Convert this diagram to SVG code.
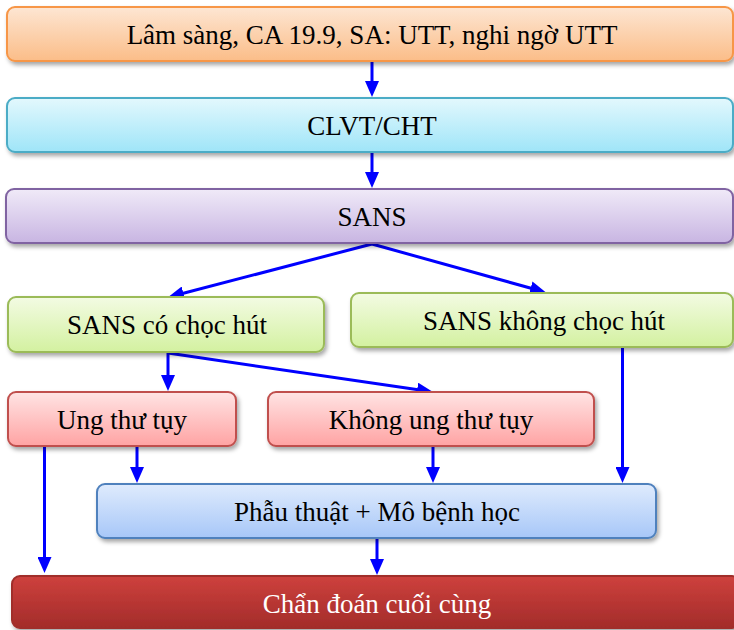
<svg xmlns="http://www.w3.org/2000/svg" width="734" height="630" viewBox="0 0 734 630">
<style>
  text { font-family: 'Liberation Serif', 'DejaVu Serif', serif; font-size: 27px; fill: #000; text-anchor: middle; }
  .white { fill: #fff; }
  .box { stroke-width: 2; filter: url(#shadow); }
  .conn { stroke: #0000ff; stroke-width: 3; fill: none; marker-end: url(#arrow); }
</style>
<defs>
  <filter id="shadow" x="-5%" y="-20%" width="110%" height="150%">
    <feDropShadow dx="2" dy="3" stdDeviation="2" flood-color="#000" flood-opacity="0.35"/>
  </filter>
  <marker id="arrow" viewBox="0 0 16 14" refX="8" refY="7" markerWidth="16" markerHeight="14" markerUnits="userSpaceOnUse" orient="auto">
    <path d="M0,0 L16,7 L0,14 z" fill="#0000ff"/>
  </marker>
  <linearGradient id="gOrange" x1="0" y1="0" x2="0" y2="1"><stop offset="0" stop-color="#fde6d3"/><stop offset="1" stop-color="#fbbd88"/></linearGradient>
  <linearGradient id="gCyan" x1="0" y1="0" x2="0" y2="1"><stop offset="0" stop-color="#e3f8fd"/><stop offset="1" stop-color="#9fe5f8"/></linearGradient>
  <linearGradient id="gPurple" x1="0" y1="0" x2="0" y2="1"><stop offset="0" stop-color="#f0eaf8"/><stop offset="1" stop-color="#c8b5e2"/></linearGradient>
  <linearGradient id="gGreen" x1="0" y1="0" x2="0" y2="1"><stop offset="0" stop-color="#f3fbe3"/><stop offset="1" stop-color="#d3f1a0"/></linearGradient>
  <linearGradient id="gPink" x1="0" y1="0" x2="0" y2="1"><stop offset="0" stop-color="#ffe4e4"/><stop offset="1" stop-color="#ffa3a3"/></linearGradient>
  <linearGradient id="gBlue" x1="0" y1="0" x2="0" y2="1"><stop offset="0" stop-color="#dfebfd"/><stop offset="1" stop-color="#a7c7f8"/></linearGradient>
  <linearGradient id="gRed" x1="0" y1="0" x2="0" y2="1"><stop offset="0" stop-color="#ce413d"/><stop offset="1" stop-color="#a32c2a"/></linearGradient>
</defs>

<g id="connectors">
  <line class="conn" x1="372" y1="62" x2="372" y2="89"/>
  <line class="conn" x1="372" y1="153" x2="372" y2="180"/>
  <line class="conn" x1="372" y1="244" x2="175.7" y2="295.3"/>
  <line class="conn" x1="372" y1="244" x2="538.3" y2="290.3"/>
  <line class="conn" x1="168" y1="353" x2="168" y2="383"/>
  <line class="conn" x1="168" y1="353" x2="425.1" y2="390.8"/>
  <line class="conn" x1="44.5" y1="447" x2="44.5" y2="565"/>
  <line class="conn" x1="137" y1="447" x2="137" y2="475"/>
  <line class="conn" x1="433" y1="447" x2="433" y2="475"/>
  <line class="conn" x1="622.5" y1="347" x2="622.5" y2="475"/>
  <line class="conn" x1="377" y1="539" x2="377" y2="567"/>
</g>

<g id="n1">
  <rect class="box" x="7" y="7" width="726" height="54" rx="8" fill="url(#gOrange)" stroke="#f79646"/>
  <text x="372" y="44">Lâm sàng, CA 19.9, SA: UTT, nghi ngờ UTT</text>
</g>
<g id="n2">
  <rect class="box" x="7" y="98" width="726" height="54" rx="8" fill="url(#gCyan)" stroke="#4bacc6"/>
  <text x="372" y="135">CLVT/CHT</text>
</g>
<g id="n3">
  <rect class="box" x="6" y="189" width="727" height="54" rx="8" fill="url(#gPurple)" stroke="#8064a2"/>
  <text x="372" y="226">SANS</text>
</g>
<g id="n4">
  <rect class="box" x="8" y="297" width="316" height="55" rx="8" fill="url(#gGreen)" stroke="#9bbb59"/>
  <text x="167" y="334">SANS có chọc hút</text>
</g>
<g id="n5">
  <rect class="box" x="351" y="293" width="382" height="54" rx="8" fill="url(#gGreen)" stroke="#9bbb59"/>
  <text x="544" y="330">SANS không chọc hút</text>
</g>
<g id="n6">
  <rect class="box" x="8" y="392" width="228" height="54" rx="8" fill="url(#gPink)" stroke="#c0504d"/>
  <text x="122" y="429">Ung thư tụy</text>
</g>
<g id="n7">
  <rect class="box" x="268" y="392" width="326" height="54" rx="8" fill="url(#gPink)" stroke="#c0504d"/>
  <text x="431" y="429">Không ung thư tụy</text>
</g>
<g id="n8">
  <rect class="box" x="97" y="484" width="559" height="54" rx="8" fill="url(#gBlue)" stroke="#4f81bd"/>
  <text x="377" y="521">Phẫu thuật + Mô bệnh học</text>
</g>
<g id="n9">
  <rect class="box" x="12" y="576" width="728" height="52" rx="8" fill="url(#gRed)" stroke="#a02e2b"/>
  <text class="white" x="377" y="613">Chẩn đoán cuối cùng</text>
</g>
</svg>
